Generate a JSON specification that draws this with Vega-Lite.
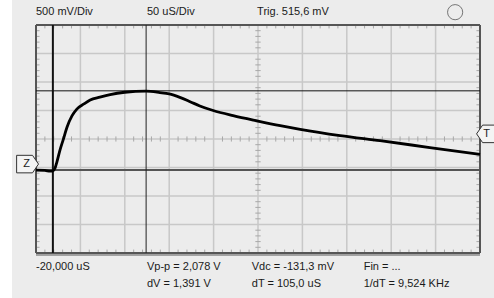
{
  "$schema": "https://vega.github.io/schema/vega-lite/v6.json",
  "width": 444,
  "height": 228,
  "autosize": {"type": "none"},
  "padding": {"left": 36, "top": 25, "right": 14, "bottom": 45},
  "background": "#ECECEC",
  "config": {"view": {"stroke": null}, "axis": {"disable": true}},
  "datasets": {
    "trace": [
      {"t": 0, "v": 2.91}, {"t": 0.2, "v": 2.9}, {"t": 0.32, "v": 2.87}, {"t": 0.38, "v": 2.88},
      {"t": 0.43, "v": 2.98}, {"t": 0.47, "v": 3.19}, {"t": 0.54, "v": 3.61}, {"t": 0.61, "v": 3.96},
      {"t": 0.7, "v": 4.42}, {"t": 0.81, "v": 4.81}, {"t": 0.92, "v": 5.05}, {"t": 1.08, "v": 5.23},
      {"t": 1.22, "v": 5.37}, {"t": 1.44, "v": 5.47}, {"t": 1.67, "v": 5.56}, {"t": 2.0, "v": 5.64},
      {"t": 2.48, "v": 5.68}, {"t": 2.79, "v": 5.63}, {"t": 3.0, "v": 5.58}, {"t": 3.24, "v": 5.46},
      {"t": 3.47, "v": 5.31}, {"t": 3.69, "v": 5.16}, {"t": 3.99, "v": 5.0}, {"t": 4.44, "v": 4.82},
      {"t": 5.0, "v": 4.63}, {"t": 5.5, "v": 4.47}, {"t": 5.95, "v": 4.34}, {"t": 6.85, "v": 4.12},
      {"t": 7.75, "v": 3.94}, {"t": 8.87, "v": 3.7}, {"t": 10.0, "v": 3.46}
    ],
    "xgrid": [{"g": 1}, {"g": 2}, {"g": 3}, {"g": 4}, {"g": 5}, {"g": 6}, {"g": 7}, {"g": 8}, {"g": 9}],
    "ygrid": [{"g": 1}, {"g": 2}, {"g": 3}, {"g": 4}, {"g": 5}, {"g": 6}, {"g": 7}],
    "xticks": [
      {"m": 0.2}, {"m": 0.4}, {"m": 0.6}, {"m": 0.8}, {"m": 1.2}, {"m": 1.4}, {"m": 1.6}, {"m": 1.8},
      {"m": 2.2}, {"m": 2.4}, {"m": 2.6}, {"m": 2.8}, {"m": 3.2}, {"m": 3.4}, {"m": 3.6}, {"m": 3.8},
      {"m": 4.2}, {"m": 4.4}, {"m": 4.6}, {"m": 4.8}, {"m": 5.2}, {"m": 5.4}, {"m": 5.6}, {"m": 5.8},
      {"m": 6.2}, {"m": 6.4}, {"m": 6.6}, {"m": 6.8}, {"m": 7.2}, {"m": 7.4}, {"m": 7.6}, {"m": 7.8},
      {"m": 8.2}, {"m": 8.4}, {"m": 8.6}, {"m": 8.8}, {"m": 9.2}, {"m": 9.4}, {"m": 9.6}, {"m": 9.8}
    ],
    "yticks": [
      {"m": 0.2}, {"m": 0.4}, {"m": 0.6}, {"m": 0.8}, {"m": 1.2}, {"m": 1.4}, {"m": 1.6}, {"m": 1.8},
      {"m": 2.2}, {"m": 2.4}, {"m": 2.6}, {"m": 2.8}, {"m": 3.2}, {"m": 3.4}, {"m": 3.6}, {"m": 3.8},
      {"m": 4.2}, {"m": 4.4}, {"m": 4.6}, {"m": 4.8}, {"m": 5.2}, {"m": 5.4}, {"m": 5.6}, {"m": 5.8},
      {"m": 6.2}, {"m": 6.4}, {"m": 6.6}, {"m": 6.8}, {"m": 7.2}, {"m": 7.4}, {"m": 7.6}, {"m": 7.8}
    ],
    "labels": [
      {"x": 0, "y": 8.44, "text": "500 mV/Div"},
      {"x": 2.5, "y": 8.44, "text": "50 uS/Div"},
      {"x": 4.98, "y": 8.44, "text": "Trig. 515,6 mV"},
      {"x": 0, "y": -0.5, "text": "-20,000 uS"},
      {"x": 2.5, "y": -0.5, "text": "Vp-p = 2,078 V"},
      {"x": 4.86, "y": -0.5, "text": "Vdc = -131,3 mV"},
      {"x": 7.38, "y": -0.5, "text": "Fin = ..."},
      {"x": 2.5, "y": -1.1, "text": "dV = 1,391 V"},
      {"x": 4.86, "y": -1.1, "text": "dT = 105,0 uS"},
      {"x": 7.38, "y": -1.1, "text": "1/dT = 9,524 KHz"}
    ],
    "markers": [
      {"x": -0.19, "y": 3.12, "text": "Z", "side": "left"},
      {"x": 10.17, "y": 4.18, "text": "T", "side": "right"}
    ]
  },
  "layer": [
    {
      "data": {"values": [{"a": -1, "b": -0.54}]},
      "mark": {"type": "rect", "color": "#FFFFFF"},
      "encoding": {
        "x": {"field": "a", "type": "quantitative", "scale": {"domain": [0, 10], "nice": false, "zero": false}},
        "x2": {"field": "b"},
        "y": {"datum": -3, "type": "quantitative", "scale": {"domain": [0, 8], "nice": false, "zero": false}},
        "y2": {"datum": 11}
      }
    },
    {
      "data": {"name": "xgrid"},
      "mark": {"type": "rule", "color": "#C8C8C8", "strokeWidth": 1.5},
      "encoding": {"x": {"field": "g", "type": "quantitative"}}
    },
    {
      "data": {"name": "ygrid"},
      "mark": {"type": "rule", "color": "#C8C8C8", "strokeWidth": 1.5},
      "encoding": {"y": {"field": "g", "type": "quantitative"}}
    },
    {
      "data": {"name": "xticks"},
      "mark": {"type": "rule", "color": "#A8A8A8", "strokeWidth": 1},
      "encoding": {"x": {"field": "m", "type": "quantitative"}, "y": {"datum": 3.91}, "y2": {"datum": 4.09}}
    },
    {
      "data": {"name": "xticks"},
      "mark": {"type": "rule", "color": "#A8A8A8", "strokeWidth": 1},
      "encoding": {"x": {"field": "m", "type": "quantitative"}, "y": {"datum": 0}, "y2": {"datum": 0.12}}
    },
    {
      "data": {"name": "xticks"},
      "mark": {"type": "rule", "color": "#A8A8A8", "strokeWidth": 1},
      "encoding": {"x": {"field": "m", "type": "quantitative"}, "y": {"datum": 7.88}, "y2": {"datum": 8}}
    },
    {
      "data": {"name": "yticks"},
      "mark": {"type": "rule", "color": "#A8A8A8", "strokeWidth": 1},
      "encoding": {"y": {"field": "m", "type": "quantitative"}, "x": {"datum": 4.94}, "x2": {"datum": 5.06}}
    },
    {
      "data": {"name": "yticks"},
      "mark": {"type": "rule", "color": "#A8A8A8", "strokeWidth": 1},
      "encoding": {"y": {"field": "m", "type": "quantitative"}, "x": {"datum": 0}, "x2": {"datum": 0.08}}
    },
    {
      "data": {"name": "yticks"},
      "mark": {"type": "rule", "color": "#A8A8A8", "strokeWidth": 1},
      "encoding": {"y": {"field": "m", "type": "quantitative"}, "x": {"datum": 9.92}, "x2": {"datum": 10}}
    },
    {
      "data": {"values": [{"g": 0}, {"g": 10}]},
      "mark": {"type": "rule", "color": "#555555", "strokeWidth": 2},
      "encoding": {"x": {"field": "g", "type": "quantitative"}}
    },
    {
      "data": {"values": [{"g": 0}, {"g": 8}]},
      "mark": {"type": "rule", "color": "#555555", "strokeWidth": 2},
      "encoding": {"y": {"field": "g", "type": "quantitative"}}
    },
    {
      "data": {"values": [{"g": -0.07}]},
      "mark": {"type": "rule", "color": "#555555", "strokeWidth": 1},
      "encoding": {"y": {"field": "g", "type": "quantitative"}}
    },
    {
      "data": {"values": [{"c": 2.91}]},
      "mark": {"type": "rule", "color": "#555555", "strokeWidth": 2},
      "encoding": {"y": {"field": "c", "type": "quantitative"}}
    },
    {
      "data": {"values": [{"c": 5.69}]},
      "mark": {"type": "rule", "color": "#111111", "strokeWidth": 1},
      "encoding": {"y": {"field": "c", "type": "quantitative"}}
    },
    {
      "data": {"values": [{"c": 0.38}]},
      "mark": {"type": "rule", "color": "#111111", "strokeWidth": 2},
      "encoding": {"x": {"field": "c", "type": "quantitative"}}
    },
    {
      "data": {"values": [{"c": 2.48}]},
      "mark": {"type": "rule", "color": "#222222", "strokeWidth": 1},
      "encoding": {"x": {"field": "c", "type": "quantitative"}}
    },
    {
      "data": {"name": "trace"},
      "mark": {"type": "line", "color": "#000000", "strokeWidth": 2.8, "interpolate": "monotone"},
      "encoding": {"x": {"field": "t", "type": "quantitative"}, "y": {"field": "v", "type": "quantitative"}}
    },
    {
      "data": {"name": "labels"},
      "mark": {"type": "text", "align": "left", "baseline": "middle", "font": "Liberation Sans", "fontSize": 11, "color": "#1A1A1A"},
      "encoding": {"x": {"field": "x", "type": "quantitative"}, "y": {"field": "y", "type": "quantitative"}, "text": {"field": "text"}}
    },
    {
      "data": {"values": [{"x": 9.44, "y": 8.45}]},
      "mark": {"type": "point", "shape": "circle", "size": 230, "filled": false, "color": "#444444", "strokeWidth": 1},
      "encoding": {"x": {"field": "x", "type": "quantitative"}, "y": {"field": "y", "type": "quantitative"}}
    },
    {
      "data": {"name": "markers"},
      "transform": [{"filter": "datum.side == 'left'"}],
      "mark": {"type": "point", "shape": "M-1,-0.8L0.45,-0.8L1,0L0.45,0.8L-1,0.8Z", "size": 480, "filled": true, "fill": "#F4F4F4", "stroke": "#333333", "strokeWidth": 1, "opacity": 1},
      "encoding": {"x": {"field": "x", "type": "quantitative"}, "y": {"field": "y", "type": "quantitative"}}
    },
    {
      "data": {"name": "markers"},
      "transform": [{"filter": "datum.side == 'right'"}],
      "mark": {"type": "point", "shape": "M1,-0.8L-0.45,-0.8L-1,0L-0.45,0.8L1,0.8Z", "size": 480, "filled": true, "fill": "#F4F4F4", "stroke": "#333333", "strokeWidth": 1, "opacity": 1},
      "encoding": {"x": {"field": "x", "type": "quantitative"}, "y": {"field": "y", "type": "quantitative"}}
    },
    {
      "data": {"name": "markers"},
      "mark": {"type": "text", "align": "center", "baseline": "middle", "font": "Liberation Sans", "fontSize": 11, "color": "#222222", "dx": -1},
      "encoding": {"x": {"field": "x", "type": "quantitative"}, "y": {"field": "y", "type": "quantitative"}, "text": {"field": "text"}}
    }
  ]
}
